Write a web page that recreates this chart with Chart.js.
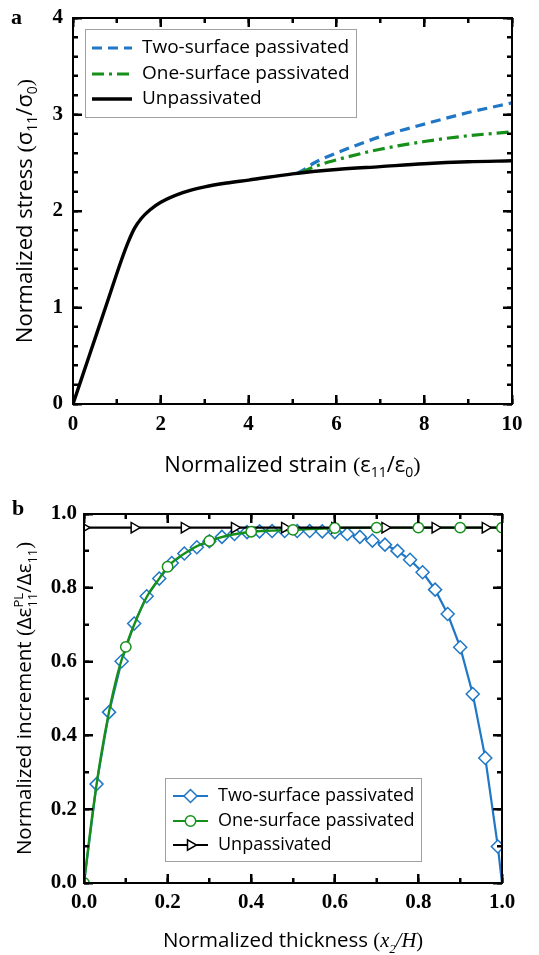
<!DOCTYPE html>
<html>
<head>
<meta charset="utf-8">
<script src="https://cdn.jsdelivr.net/npm/chart.js@4.4.1/dist/chart.umd.min.js"></script>
<style>
  html, body { margin: 0; padding: 0; background: #fff; }
  .painel { position: absolute; left: 0; width: 539px; }
  #painelA { top: 0; height: 480px; }
  #painelB { top: 480px; height: 475px; }
</style>
</head>
<body>
<div class="painel" id="painelA"><canvas id="graficoA"></canvas></div>
<div class="painel" id="painelB"><canvas id="graficoB"></canvas></div>
<script>
// ---------- (a) tensão x deformação ----------
const deformacaoSem = [0, 0.37, 0.74, 1.11, 1.25, 1.4, 1.55, 1.75, 2.0, 2.5, 3, 3.5, 4, 5, 6, 7, 8, 9, 10];
const tensaoSem = [0, 0.5, 1.0, 1.5, 1.67, 1.82, 1.92, 2.01, 2.09, 2.19, 2.25, 2.29, 2.32, 2.385, 2.43, 2.46, 2.49, 2.51, 2.52];
const deformacaoDuas = [5.1, 5.3, 5.5, 6, 7, 8, 9, 10];
const tensaoDuas = [2.39, 2.44, 2.50, 2.60, 2.77, 2.90, 3.02, 3.12];
const deformacaoUma = [5.2, 5.5, 6, 7, 8, 9, 10];
const tensaoUma = [2.40, 2.46, 2.53, 2.64, 2.72, 2.78, 2.82];

const ticksXa = [0, 2, 4, 6, 8, 10];
const ticksXaMenores = [1, 3, 5, 7, 9];
const ticksYa = [0, 1, 2, 3, 4];
const ticksYaMenores = [0.2, 0.4, 0.6, 0.8, 1.2, 1.4, 1.6, 1.8, 2.2, 2.4, 2.6, 2.8, 3.2, 3.4, 3.6, 3.8];

// ---------- (b) incremento x espessura ----------
const espessuraDuas = [0, 0.03, 0.06, 0.09, 0.12, 0.15, 0.18, 0.21, 0.24, 0.27, 0.30, 0.33, 0.36, 0.39, 0.42, 0.45, 0.48,
  0.51, 0.54, 0.57, 0.60, 0.63, 0.66, 0.69, 0.72, 0.75, 0.78, 0.81, 0.84, 0.87, 0.90, 0.93, 0.96, 0.99, 1.0];
const incrementoDuas = [0, 0.268, 0.463, 0.601, 0.703, 0.777, 0.825, 0.867, 0.893, 0.910, 0.926, 0.938, 0.946, 0.951, 0.953, 0.954, 0.954,
  0.954, 0.954, 0.953, 0.951, 0.946, 0.938, 0.928, 0.917, 0.900, 0.876, 0.842, 0.795, 0.729, 0.639, 0.512, 0.339, 0.099, 0];

const espessuraUmaLinha = [0, 0.02, 0.04, 0.06, 0.08, 0.1, 0.12, 0.15, 0.18, 0.2, 0.25, 0.3, 0.35, 0.4, 0.45, 0.5, 0.6, 0.7, 0.8, 0.9, 1.0];
const incrementoUmaLinha = [0, 0.185, 0.34, 0.465, 0.565, 0.64, 0.70, 0.775, 0.825, 0.857, 0.90, 0.927, 0.943, 0.952, 0.955, 0.957, 0.962, 0.963, 0.963, 0.963, 0.963];
const espessuraUma = [0, 0.1, 0.2, 0.3, 0.4, 0.5, 0.6, 0.7, 0.8, 0.9, 1.0];
const incrementoUma = [0, 0.64, 0.857, 0.927, 0.952, 0.957, 0.962, 0.963, 0.963, 0.963, 0.963];

const espessuraSem = [0, 0.12, 0.24, 0.36, 0.48, 0.60, 0.72, 0.84, 0.96, 1.0];
const incrementoSem = [0.963, 0.963, 0.963, 0.963, 0.963, 0.963, 0.963, 0.963, 0.963, 0.963];

const ticksB = [0, 0.2, 0.4, 0.6, 0.8, 1.0];
const ticksBMenores = [0.1, 0.3, 0.5, 0.7, 0.9];

const nomesSeries = ['Two-surface passivated', 'One-surface passivated', 'Unpassivated'];
const azul = '#1f77c6';
const verde = '#17901a';

const FONTE_SANS = '"Open Sans", "Liberation Sans", sans-serif';
const FONTE_SERIF = '"Liberation Serif", "DejaVu Serif", serif';

function pares(xs, ys) {
  return xs.map((x, i) => ({ x: x, y: ys[i] }));
}

function fonte(p, tam) {
  if (p.f === 'r') return tam + 'px ' + FONTE_SERIF;
  if (p.f === 'i') return 'italic ' + tam + 'px ' + FONTE_SERIF;
  return tam + 'px ' + FONTE_SANS;
}

// texto com índices (sub/sobrescritos) centrado em (cx, cy)
function desenharRotulo(ctx, partes, cx, cy, tam, vertical) {
  ctx.save();
  ctx.translate(cx, cy);
  if (vertical) ctx.rotate(-Math.PI / 2);
  const pequeno = Math.round(tam * 0.65);
  let total = 0;
  const larguras = partes.map(p => {
    let w;
    if (p.sup !== undefined) {
      ctx.font = fonte(p, pequeno);
      w = Math.max(ctx.measureText(p.sup).width, ctx.measureText(p.sub).width);
    } else {
      ctx.font = fonte(p, p.sub ? pequeno : tam);
      w = ctx.measureText(p.t).width;
    }
    total += w;
    return w;
  });
  let x = -total / 2;
  const base = tam * 0.36;
  ctx.fillStyle = '#000';
  ctx.textBaseline = 'alphabetic';
  ctx.textAlign = 'left';
  partes.forEach((p, i) => {
    if (p.sup !== undefined) {
      ctx.font = fonte(p, pequeno);
      ctx.fillText(p.sup, x, base - tam * 0.42);
      ctx.fillText(p.sub, x, base + tam * 0.25);
    } else if (p.sub) {
      ctx.font = fonte(p, pequeno);
      ctx.fillText(p.t, x, base + tam * 0.25);
    } else {
      ctx.font = fonte(p, tam);
      ctx.fillText(p.t, x, base);
    }
    x += larguras[i];
  });
  ctx.restore();
}

// marcas internas nos quatro lados + moldura
function desenharMarcas(chart, op) {
  const ctx = chart.ctx;
  const a = chart.chartArea;
  const sx = chart.scales.x, sy = chart.scales.y;
  ctx.save();
  ctx.fillStyle = '#000';
  for (const v of op.xMaiores) {
    ctx.fillRect(Math.round(sx.getPixelForValue(v)) - 1, Math.round(a.bottom) - 9, 2, 9);
    ctx.fillRect(Math.round(sx.getPixelForValue(v)) - 1, Math.round(a.top), 2, 9);
  }
  for (const v of op.xMenores) {
    ctx.fillRect(Math.round(sx.getPixelForValue(v)) - 1, Math.round(a.bottom) - 5, 2, 5);
    ctx.fillRect(Math.round(sx.getPixelForValue(v)) - 1, Math.round(a.top), 2, 5);
  }
  for (const v of op.yMaiores) {
    ctx.fillRect(Math.round(a.left), Math.round(sy.getPixelForValue(v)) - 1, 9, 2);
    ctx.fillRect(Math.round(a.right) - 9, Math.round(sy.getPixelForValue(v)) - 1, 9, 2);
  }
  for (const v of op.yMenores) {
    ctx.fillRect(Math.round(a.left), Math.round(sy.getPixelForValue(v)) - 1, 5, 2);
    ctx.fillRect(Math.round(a.right) - 5, Math.round(sy.getPixelForValue(v)) - 1, 5, 2);
  }
  ctx.strokeStyle = '#000';
  ctx.lineWidth = 2;
  ctx.strokeRect(Math.round(a.left), Math.round(a.top), Math.round(a.right) - Math.round(a.left), Math.round(a.bottom) - Math.round(a.top));
  ctx.restore();
}

// títulos dos eixos, legenda e letra do painel
function criarMoldura(op) {
  return {
    id: 'moldura',
    afterDraw(chart) {
      const ctx = chart.ctx;
      const a = chart.chartArea;
      ctx.save();

      // legenda
      const lg = op.legenda;
      ctx.fillStyle = '#fff';
      ctx.fillRect(lg.x, lg.y, lg.w, lg.h);
      ctx.strokeStyle = '#a0a0a0';
      ctx.lineWidth = 1;
      ctx.strokeRect(lg.x + 0.5, lg.y + 0.5, lg.w, lg.h);
      lg.itens.forEach((it, i) => {
        const yy = lg.linhas[i];
        ctx.save();
        ctx.strokeStyle = it.cor;
        ctx.lineWidth = it.espessura;
        ctx.setLineDash(it.traco || []);
        ctx.beginPath();
        ctx.moveTo(lg.x0, yy); ctx.lineTo(lg.x1, yy);
        ctx.stroke();
        ctx.setLineDash([]);
        if (it.ponto) {
          ctx.fillStyle = '#fff';
          ctx.strokeStyle = it.cor;
          ctx.lineWidth = 1.5;
          Chart.helpers.drawPoint(ctx, { pointStyle: it.ponto, radius: it.raio, rotation: it.rot || 0, borderWidth: 1.5 },
            (lg.x0 + lg.x1) / 2, yy);
        }
        ctx.restore();
        ctx.fillStyle = '#000';
        ctx.font = lg.tam + 'px ' + FONTE_SANS;
        ctx.textBaseline = 'middle';
        ctx.textAlign = 'left';
        ctx.fillText(nomesSeries[i], lg.xt, yy);
      });

      // títulos dos eixos
      desenharRotulo(ctx, op.tituloX, (a.left + a.right) / 2, op.tituloXy, op.tamTitulo, false);
      desenharRotulo(ctx, op.tituloY, op.tituloYx, (a.top + a.bottom) / 2, op.tamTitulo, true);

      // letra do painel
      ctx.fillStyle = '#000';
      ctx.font = 'bold 22px ' + FONTE_SERIF;
      ctx.textBaseline = 'middle';
      ctx.textAlign = 'left';
      ctx.fillText(op.letra, op.letraX, op.letraY);
      ctx.restore();

      desenharMarcas(chart, op);
    }
  };
}

function escala(min, max, passo, pad, casas, tamanho, largura) {
  return {
    type: 'linear', min: min, max: max,
    grid: { display: false, drawTicks: false },
    border: { display: false },
    ticks: {
      stepSize: passo, padding: pad, color: '#000',
      font: { family: FONTE_SERIF, size: 21, weight: 'bold' },
      callback: v => v.toFixed(casas)
    },
    afterFit: s => {
      if (largura) { s.width = largura; s.paddingTop = 0; s.paddingBottom = 0; }
      if (tamanho) { s.height = tamanho; s.paddingLeft = 0; s.paddingRight = 0; }
    }
  };
}

// eixo sem rótulos, só com marcas voltadas para dentro do gráfico
function eixoMarcas(posicao, min, max, passo, comprimento) {
  return {
    type: 'linear', position: posicao, min: min, max: max, weight: -1,
    ticks: { display: false, stepSize: passo },
    border: { display: false },
    grid: { display: true, drawOnChartArea: false, drawTicks: true, tickLength: -comprimento,
      tickWidth: 2, tickColor: '#000', z: 1 },
    afterFit: s => {
      if (s.isHorizontal()) s.height = 0; else s.width = 0;
      s.paddingTop = 0; s.paddingBottom = 0; s.paddingLeft = 0; s.paddingRight = 0;
    }
  };
}

function eixosMarcas(minX, maxX, passoX, passoXmenor, minY, maxY, passoY, passoYmenor) {
  return {
    xInf9: eixoMarcas('bottom', minX, maxX, passoX, 9),
    xInf5: eixoMarcas('bottom', minX, maxX, passoXmenor, 5),
    xSup9: eixoMarcas('top', minX, maxX, passoX, 9),
    xSup5: eixoMarcas('top', minX, maxX, passoXmenor, 5),
    yEsq9: eixoMarcas('left', minY, maxY, passoY, 9),
    yEsq5: eixoMarcas('left', minY, maxY, passoYmenor, 5),
    yDir9: eixoMarcas('right', minY, maxY, passoY, 9),
    yDir5: eixoMarcas('right', minY, maxY, passoYmenor, 5)
  };
}

// ---------- gráfico a ----------
new Chart(document.getElementById('graficoA'), {
  type: 'line',
  data: {
    datasets: [
      { data: pares(deformacaoSem, tensaoSem), borderColor: '#000', borderWidth: 3.4, pointRadius: 0,
        cubicInterpolationMode: 'monotone', order: 1 },
      { data: pares(deformacaoUma, tensaoUma), borderColor: verde, borderWidth: 3.2, pointRadius: 0,
        borderDash: [12, 5, 3, 5], cubicInterpolationMode: 'monotone', order: 2 },
      { data: pares(deformacaoDuas, tensaoDuas), borderColor: azul, borderWidth: 3.2, pointRadius: 0,
        borderDash: [10, 6], cubicInterpolationMode: 'monotone', order: 3 }
    ]
  },
  options: {
    responsive: true, maintainAspectRatio: false, animation: false,
    layout: { padding: { left: 0, right: 27, top: 18, bottom: 0 } },
    plugins: { legend: { display: false }, tooltip: { enabled: false } },
    scales: Object.assign({
      x: escala(0, 10, 2, 8, 0, 76, 0),
      y: escala(0, 4, 1, 10, 0, 0, 73)
    }, eixosMarcas(0, 10, ticksXa[1] - ticksXa[0], ticksXaMenores[0], 0, 4, ticksYa[1] - ticksYa[0], ticksYaMenores[0]))
  },
  plugins: [criarMoldura({
    xMaiores: ticksXa, xMenores: ticksXaMenores, yMaiores: ticksYa, yMenores: ticksYaMenores,
    tituloX: [{ t: 'Normalized strain ' }, { t: '(', f: 'r' }, { t: 'ε' }, { t: '11', sub: true }, { t: '/ε' },
      { t: '0', sub: true }, { t: ')', f: 'r' }],
    tituloY: [{ t: 'Normalized stress ' }, { t: '(', f: 'r' }, { t: 'σ' }, { t: '11', sub: true }, { t: '/σ' },
      { t: '0', sub: true }, { t: ')', f: 'r' }],
    tituloXy: 464, tituloYx: 24, tamTitulo: 22,
    letra: 'a', letraX: 11, letraY: 18,
    legenda: {
      x: 85, y: 29, w: 271, h: 88, x0: 92, x1: 132, xt: 142, tam: 19, linhas: [48, 74, 99],
      itens: [
        { cor: azul, espessura: 3.2, traco: [10, 6] },
        { cor: verde, espessura: 3.2, traco: [12, 5, 3, 5] },
        { cor: '#000', espessura: 3.4 }
      ]
    }
  })]
});

// ---------- gráfico b ----------
const raiosDuas = espessuraDuas.map((x, i) => (i === 0 || i === espessuraDuas.length - 1) ? 0 : 6.5);
const raiosSem = espessuraSem.map((x, i) => i === espessuraSem.length - 1 ? 0 : 6);

new Chart(document.getElementById('graficoB'), {
  type: 'line',
  data: {
    datasets: [
      { data: pares(espessuraDuas, incrementoDuas), borderColor: azul, borderWidth: 2.2, pointStyle: 'rectRot',
        pointRadius: raiosDuas, pointBackgroundColor: '#fff', pointBorderColor: azul, pointBorderWidth: 1.5,
        clip: 0, order: 4 },
      { data: pares(espessuraUmaLinha, incrementoUmaLinha), borderColor: verde, borderWidth: 2.4, pointRadius: 0,
        cubicInterpolationMode: 'monotone', clip: 0, order: 3 },
      { data: pares(espessuraSem, incrementoSem), borderColor: '#000', borderWidth: 2.2, pointStyle: 'triangle',
        rotation: 90, pointRadius: raiosSem, pointBackgroundColor: '#fff', pointBorderColor: '#000', pointBorderWidth: 1.5,
        clip: 0, order: 2 },
      { data: pares(espessuraUma, incrementoUma), showLine: false, pointStyle: 'circle', pointRadius: 5.2,
        pointBackgroundColor: '#fff', pointBorderColor: verde, pointBorderWidth: 1.5, clip: 0, order: 1 }
    ]
  },
  options: {
    responsive: true, maintainAspectRatio: false, animation: false,
    layout: { padding: { left: 0, right: 37, top: 34, bottom: 0 } },
    plugins: { legend: { display: false }, tooltip: { enabled: false } },
    scales: Object.assign({
      x: escala(0, 1, 0.2, 7, 1, 72, 0),
      y: escala(0, 1, 0.2, 7, 1, 0, 84)
    }, eixosMarcas(0, 1, 0.2, 0.1, 0, 1, 0.2, 0.1))
  },
  plugins: [criarMoldura({
    xMaiores: ticksB, xMenores: ticksBMenores, yMaiores: ticksB, yMenores: ticksBMenores,
    tituloX: [{ t: 'Normalized thickness ' }, { t: '(', f: 'r' }, { t: 'x', f: 'i' }, { t: '2', sub: true, f: 'i' },
      { t: '/', f: 'i' }, { t: 'H', f: 'i' }, { t: ')', f: 'r' }],
    tituloY: [{ t: 'Normalized increment ' }, { t: '(', f: 'r' }, { t: 'Δε' }, { sup: 'PL', sub: '11' }, { t: '/Δε' },
      { t: '11', sub: true }, { t: ')', f: 'r' }],
    tituloXy: 460, tituloYx: 24, tamTitulo: 20.5,
    letra: 'b', letraX: 12, letraY: 29,
    legenda: {
      x: 165, y: 298, w: 256, h: 83, x0: 173, x1: 208, xt: 218, tam: 18, linhas: [316, 341, 365],
      itens: [
        { cor: azul, espessura: 2.2, ponto: 'rectRot', raio: 6.5 },
        { cor: verde, espessura: 2.2, ponto: 'circle', raio: 5.2 },
        { cor: '#000', espessura: 2.2, ponto: 'triangle', raio: 6, rot: 90 }
      ]
    }
  })]
});
</script>
</body>
</html>
